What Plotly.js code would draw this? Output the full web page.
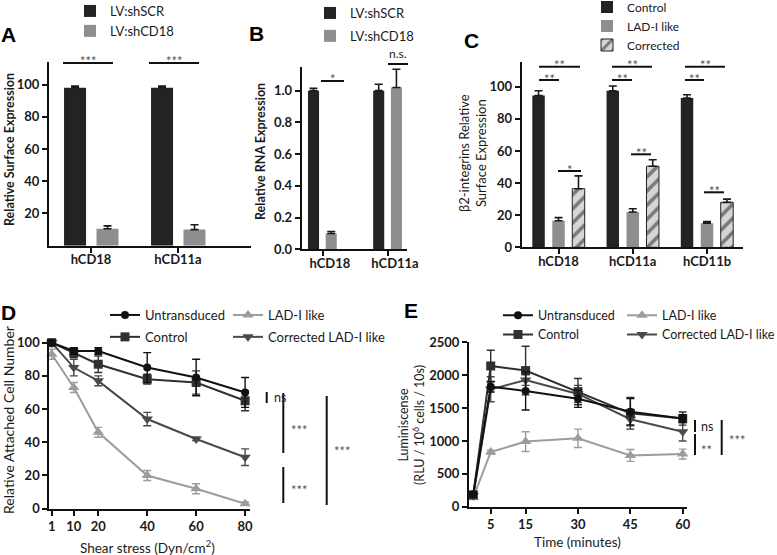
<!DOCTYPE html>
<html><head><meta charset="utf-8">
<script src="https://cdn.plot.ly/plotly-3.0.1.min.js"></script>
<style>html,body{margin:0;padding:0;background:#fff}#chart{width:777px;height:555px}</style>
</head><body><div id="chart"></div>
<script>
// ---------- data ----------
const catsAB = ['hCD18', 'hCD11a'];
const catsC = ['hCD18', 'hCD11a', 'hCD11b'];
// Panel A: relative surface expression
const aShSCR = [98, 98];
const aShSCRErr = [1, 1];
const aShCD18 = [10.5, 10];
const aShCD18Err = [1.8, 3];
// Panel B: relative RNA expression
const bShSCR = [1.0, 1.0];
const bShSCRErr = [0.015, 0.04];
const bShCD18 = [0.10, 1.02];
const bShCD18Err = [0.012, 0.115];
// Panel C: beta2-integrins relative surface expression
const cControl = [94.5, 97.5, 93];
const cControlErr = [3, 3, 2];
const cLAD = [16.5, 22, 15];
const cLADErr = [2, 2, 1];
const cCorrected = [36.5, 50.5, 28];
const cCorrectedErr = [8, 4, 2];
// Panel D: attached cells vs shear stress
const shear = [1, 10, 20, 40, 60, 80];
const dUntrans = [100, 95, 95, 85, 79, 70];
const dUntransErr = [1, 2, 2, 9, 11, 9];
const dControl = [100, 94, 87, 78, 76, 65];
const dControlErr = [1, 3, 5, 3, 7, 6];
const dLAD = [93, 73, 46, 20, 12, 3];
const dLADErr = [3, 3, 3, 3, 3, 1];
const dCorrected = [100, 85, 77, 54, 42, 31];
const dCorrectedErr = [1, 5, 3, 4, 1, 5];
// Panel E: luminiscence vs time
const timeMin = [0, 5, 15, 30, 45, 60];
const eUntrans = [190, 1825, 1760, 1640, 1445, 1340];
const eUntransErr = [40, 80, 290, 130, 200, 60];
const eControl = [180, 2140, 2070, 1750, 1420, 1340];
const eControlErr = [40, 240, 370, 200, 240, 100];
const eLAD = [140, 830, 990, 1040, 780, 800];
const eLADErr = [30, 30, 150, 140, 90, 75];
const eCorrected = [170, 1785, 1925, 1715, 1330, 1140];
const eCorrectedErr = [40, 190, 80, 130, 100, 140];

// ---------- helpers ----------
const W = 777, H = 555;
const px = v => v / W;
const py = v => 1 - v / H;
const FONT = 'Lato, "Open Sans", sans-serif';
const DARK = '#232323', GREY = '#8e8e8e';
const C_UN = '#111111', C_CO = '#303030', C_LAD = '#9c9c9c', C_COR = '#4a4a4a';

function upErr(arr, color) {
  return {type: 'data', array: arr, arrayminus: arr.map(() => 0), symmetric: false,
          color: color || '#1a1a1a', thickness: 1.6, width: 4};
}
function symErr(arr, color) {
  return {type: 'data', array: arr, color: color, thickness: 1.4, width: 4};
}

const traces = [];
// A
traces.push({type: 'bar', x: catsAB, y: aShSCR, name: 'LV:shSCR', xaxis: 'x', yaxis: 'y', legendgroup: 'a1', legendrank: 1,
  width: 0.253, offset: -0.31, marker: {color: DARK}, error_y: upErr(aShSCRErr), legend: 'legend8'});
traces.push({type: 'bar', x: catsAB, y: aShCD18, name: 'LV:shCD18', xaxis: 'x', yaxis: 'y', legendgroup: 'a2', legendrank: 2,
  width: 0.253, offset: 0.063, marker: {color: GREY}, error_y: upErr(aShCD18Err), legend: 'legend8'});
// B
traces.push({type: 'bar', x: catsAB, y: bShSCR, name: 'LV:shSCR', xaxis: 'x2', yaxis: 'y2', legendgroup: 'b1', legendrank: 1,
  width: 0.17, offset: -0.228, marker: {color: DARK}, error_y: upErr(bShSCRErr), legend: 'legend2'});
traces.push({type: 'bar', x: catsAB, y: bShCD18, name: 'LV:shCD18', xaxis: 'x2', yaxis: 'y2', legendgroup: 'b2', legendrank: 2,
  width: 0.17, offset: 0.044, marker: {color: GREY}, error_y: upErr(bShCD18Err), legend: 'legend2'});
// C
traces.push({type: 'bar', x: catsC, y: cControl, name: 'Control', xaxis: 'x3', yaxis: 'y3', legendgroup: 'c1', legendrank: 1,
  width: 0.168, offset: -0.353, marker: {color: DARK}, error_y: upErr(cControlErr), legend: 'legend3'});
traces.push({type: 'bar', x: catsC, y: cLAD, name: 'LAD-I like', xaxis: 'x3', yaxis: 'y3', legendgroup: 'c2', legendrank: 2,
  width: 0.168, offset: -0.084, marker: {color: GREY}, error_y: upErr(cLADErr), legend: 'legend3'});
traces.push({type: 'bar', x: catsC, y: cCorrected, name: 'Corrected', xaxis: 'x3', yaxis: 'y3', legendgroup: 'c3', legendrank: 3,
  width: 0.168, offset: 0.185,
  marker: {color: '#d6d6d6', line: {color: '#222', width: 1},
           pattern: {shape: '/', fgcolor: '#1e1e1e', bgcolor: '#d6d6d6', size: 10, solidity: 0.36, fillmode: 'overlay'}},
  error_y: upErr(cCorrectedErr), legend: 'legend3'});
// D / E line traces
function lineTrace(x, y, err, name, color, symbol, size, xa, ya, lg, grp, rank) {
  return {type: 'scatter', mode: 'lines+markers', x: x, y: y, name: name, xaxis: xa, yaxis: ya,
    line: {color: color, width: 2}, marker: {color: color, symbol: symbol, size: size},
    error_y: symErr(err, color), legend: lg, legendgroup: grp, legendrank: rank, cliponaxis: false};
}
traces.push(lineTrace(shear, dLAD, dLADErr, 'LAD-I like', C_LAD, 'triangle-up', 10, 'x4', 'y4', 'legend5', 'd3', 3));
traces.push(lineTrace(shear, dCorrected, dCorrectedErr, 'Corrected LAD-I like', C_COR, 'triangle-down', 10, 'x4', 'y4', 'legend5', 'd4', 4));
traces.push(lineTrace(shear, dControl, dControlErr, 'Control', C_CO, 'square', 9, 'x4', 'y4', 'legend4', 'd2', 2));
traces.push(lineTrace(shear, dUntrans, dUntransErr, 'Untransduced', C_UN, 'circle', 8, 'x4', 'y4', 'legend4', 'd1', 1));
traces.push(lineTrace(timeMin, eLAD, eLADErr, 'LAD-I like', C_LAD, 'triangle-up', 10, 'x5', 'y5', 'legend7', 'e3', 3));
traces.push(lineTrace(timeMin, eCorrected, eCorrectedErr, 'Corrected LAD-I like', C_COR, 'triangle-down', 10, 'x5', 'y5', 'legend7', 'e4', 4));
traces.push(lineTrace(timeMin, eControl, eControlErr, 'Control', C_CO, 'square', 9, 'x5', 'y5', 'legend6', 'e2', 2));
traces.push(lineTrace(timeMin, eUntrans, eUntransErr, 'Untransduced', C_UN, 'circle', 8, 'x5', 'y5', 'legend6', 'e1', 1));

// ---------- axes ----------
const tickFont = {family: FONT, size: 13, color: '#1a1a1a', weight: 700};
function ax(domain, range, extra) {
  return Object.assign({domain: domain, range: range, showline: true, linecolor: '#111', linewidth: 2,
    ticks: 'outside', ticklen: 5, tickwidth: 2, tickcolor: '#111', showgrid: false, zeroline: false,
    tickfont: tickFont, fixedrange: true, automargin: false}, extra || {});
}
const layout = {
  width: W, height: H, margin: {l: 0, r: 0, t: 0, b: 0, autoexpand: false},
  paper_bgcolor: '#fff', plot_bgcolor: 'rgba(0,0,0,0)',
  font: {family: FONT, color: '#1a1a1a'},
  barmode: 'overlay',
  xaxis: ax([px(49), px(251)], [-0.483, 1.839], {type: 'category', anchor: 'y', ticklabelstandoff: -4}),
  yaxis: ax([py(245.7), py(62)], [0, 114], {anchor: 'x', tickvals: [20, 40, 60, 80, 100]}),
  xaxis2: ax([px(301.7), px(407)], [-0.324, 1.291], {type: 'category', anchor: 'y2', ticklabelstandoff: -4, ticklabelshift: 7}),
  yaxis2: ax([py(249.3), py(66.7)], [0, 1.151], {anchor: 'x2', tickvals: [0, 0.2, 0.4, 0.6, 0.8, 1.0], tickformat: '.1f'}),
  xaxis3: ax([px(521.7), px(743)], [-0.496, 2.485], {type: 'category', anchor: 'y3', ticklabelstandoff: -4}),
  yaxis3: ax([py(247.3), py(61.7)], [0, 115.6], {anchor: 'x3', tickvals: [0, 20, 40, 60, 80, 100]}),
  xaxis4: ax([px(49.3), px(250)], [0, 82], {anchor: 'y4', tickvals: shear}),
  yaxis4: ax([py(508.7), py(338.5)], [0, 102.5], {anchor: 'x4', tickvals: [0, 20, 40, 60, 80, 100]}),
  xaxis5: ax([px(469), px(686.7)], [-1.22, 61.14], {anchor: 'y5', tickvals: [5, 15, 30, 45, 60]}),
  yaxis5: ax([py(506.7), py(342.3)], [0, 2500], {anchor: 'x5', tickvals: [0, 500, 1000, 1500, 2000, 2500]}),
};
function leg(x, y, size, gap) {
  return {x: px(x), y: py(y), xanchor: 'left', yanchor: 'top', bgcolor: 'rgba(0,0,0,0)',
    font: {family: FONT, size: size, color: '#1a1a1a'}, itemwidth: 30, tracegroupgap: gap,
    traceorder: 'grouped'};
}
layout.legend8 = leg(70, -4, 13, 0);
layout.legend2 = leg(310, -2, 13, 3);
layout.legend3 = leg(587, -7.5, 12, 0);
layout.legend4 = leg(105, 300, 13, 2);
layout.legend5 = leg(228, 300, 13, 2);
layout.legend6 = leg(498, 300.5, 12.5, 0);
layout.legend7 = leg(622, 300.5, 12.5, 0);

// ---------- significance marks & text ----------
const shapes = [];
const ann = [];
function hline(x0, x1, y) {
  shapes.push({type: 'line', xref: 'paper', yref: 'paper', x0: px(x0), x1: px(x1), y0: py(y), y1: py(y),
    line: {color: '#111', width: 2}});
}
function vline(x, y0, y1) {
  shapes.push({type: 'line', xref: 'paper', yref: 'paper', x0: px(x), x1: px(x), y0: py(y0), y1: py(y1),
    line: {color: '#111', width: 2}});
}
function txt(x, y, t, opts) {
  ann.push(Object.assign({xref: 'paper', yref: 'paper', x: px(x), y: py(y), text: t, showarrow: false,
    xanchor: 'center', yanchor: 'middle', font: {family: FONT, size: 12, color: '#333'}}, opts || {}));
}
const starFont = {family: FONT, size: 13, color: '#555'};
function star(x, yLine, t) { txt(x, yLine - 1.5, t, {font: starFont}); }
// A
hline(63, 113, 63); star(88, 63, '***');
hline(149, 199, 63); star(174, 63, '***');
// B
hline(321, 344, 81); star(332.5, 81, '*');
hline(388, 408, 64); txt(398, 63, 'n.s.', {yanchor: 'bottom', font: {family: FONT, size: 12, color: '#222'}});
// C
[[539, 580], [612, 652], [685, 725]].forEach(s => { hline(s[0], s[1], 66.7); star((s[0] + s[1]) / 2, 66.7, '**'); });
[[539, 559], [612, 632], [685, 704]].forEach(s => { hline(s[0], s[1], 80); star((s[0] + s[1]) / 2, 80, '**'); });
hline(558, 581, 171); star(569.5, 171, '*');
hline(631, 651, 154.3); star(641, 154.3, '**');
hline(704, 724, 192.3); star(714, 192.3, '**');
// D
const sideStar = {family: FONT, size: 13, color: '#555'};
vline(266.7, 392, 403); txt(272, 397, 'ns', {xanchor: 'left', font: {family: FONT, size: 12.5, color: '#222'}});
vline(283.3, 393, 453); txt(289, 430, '***', {xanchor: 'left', font: sideStar});
vline(283.3, 467, 503); txt(289, 490, '***', {xanchor: 'left', font: sideStar});
vline(326.7, 396, 505); txt(332, 451, '***', {xanchor: 'left', font: sideStar});
// E
vline(695, 420, 432); txt(699, 426, 'ns', {xanchor: 'left', font: {family: FONT, size: 12.5, color: '#222'}});
vline(695, 434, 455); txt(699, 450, '**', {xanchor: 'left', font: sideStar});
vline(721.7, 420, 455); txt(727, 440, '***', {xanchor: 'left', font: sideStar});

// panel letters
const letterFont = {family: '"Liberation Sans", Arial, sans-serif', size: 21, color: '#000', weight: 700};
txt(8, 34, 'A', {font: letterFont});
txt(256, 33, 'B', {font: letterFont});
txt(471, 40, 'C', {font: letterFont});
txt(8, 312, 'D', {font: letterFont});
txt(411, 310, 'E', {font: letterFont});

// axis titles
const titleFont = {family: FONT, size: 12.5, color: '#1a1a1a', weight: 700};
const plainTitle = s => ({family: FONT, size: s, color: '#1a1a1a', weight: 400});
txt(9, 150, 'Relative Surface Expression', {textangle: -90, font: titleFont});
txt(260, 152, 'Relative RNA Expression', {textangle: -90, font: titleFont});
txt(472, 153, 'β2-integrins Relative<br>Surface Expression', {textangle: -90, font: plainTitle(13)});
txt(8, 420, 'Relative Attached Cell Number', {textangle: -90, font: plainTitle(14)});
txt(411, 425, 'Luminiscense<br>(RLU / 10<sup>6</sup> cells / 10s)', {textangle: -90, font: plainTitle(12.5)});
txt(147, 547, 'Shear stress (Dyn/cm<sup>2</sup>)', {font: plainTitle(13.5)});
txt(577, 542, 'Time (minutes)', {font: plainTitle(13.5)});

layout.shapes = shapes;
layout.annotations = ann;

Plotly.newPlot('chart', traces, layout, {staticPlot: true, displayModeBar: false});
</script></body></html>
